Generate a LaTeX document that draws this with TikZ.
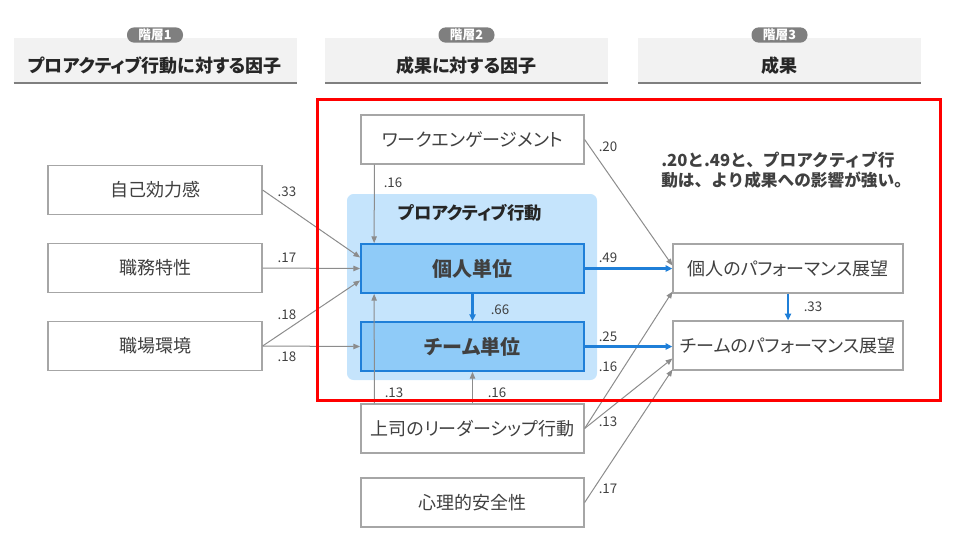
\documentclass[tikz,border=0pt]{standalone}
\usepackage{fontspec}
\setmainfont{Noto Sans CJK JP}[RawFeature=+palt]
\newfontfamily\notefont{Noto Sans CJK JP}
\usepackage{tikz}
\usetikzlibrary{arrows.meta,calc}
\definecolor{boxgray}{HTML}{A6A6A6}
\definecolor{txtgray}{HTML}{404040}
\definecolor{arrgray}{HTML}{8C8C8C}
\definecolor{hdrfill}{HTML}{F2F2F2}
\definecolor{hdrline}{HTML}{7F7F7F}
\definecolor{areablue}{HTML}{C5E4FC}
\definecolor{unitblue}{HTML}{8FCBF8}
\definecolor{lineblue}{HTML}{1F7FD8}
\tikzset{
  facbox/.style={rectangle,draw=boxgray,line width=0.9pt,fill=white,text=txtgray,
    minimum height=36.75pt,inner sep=0pt,font=\fontsize{13.5}{15}\selectfont},
  unitbox/.style={rectangle,draw=lineblue,line width=1.3pt,fill=unitblue,text=txtgray,
    minimum width=167.25pt,minimum height=36.75pt,inner sep=0pt,font=\bfseries\fontsize{15}{17}\selectfont},
  lbl/.style={text=txtgray,inner sep=0pt,font=\fontsize{10}{12}\selectfont},
  hdrtext/.style={text=black!85,inner sep=0pt,font=\bfseries\fontsize{13.5}{15}\selectfont},
  pill/.style={rectangle,rounded corners=5.5pt,fill=hdrline,text=white,minimum width=42pt,
    minimum height=11.5pt,inner sep=0pt,font=\bfseries\fontsize{9.5}{10}\selectfont},
  garrow/.style={draw=arrgray,line width=0.75pt,-{Triangle[length=5pt,width=4pt]}},
  barrow/.style={draw=lineblue,line width=1.6pt,-{Triangle[length=5pt,width=4.5pt]}},
}
\newcommand{\facnode}{\node[facbox,minimum width=160.5pt]}
\newcommand{\midnode}{\node[facbox,minimum width=167.25pt]}
\newcommand{\outnode}{\node[facbox,minimum width=172.5pt]}
\newcommand{\unitnode}{\node[unitbox]}
\newcommand{\lblnode}{\node[lbl]}

\begin{document}
\begin{tikzpicture}[x=0.75pt,y=-0.75pt]
  \useasboundingbox (0,0) rectangle (960,554);
  % headers
  \foreach \cx/\lvl/\ttl [count=\i] in {155/1/プロアクティブ行動に対する因子,466.5/2/成果に対する因子,779.5/3/成果}{
    \fill[hdrfill] (\cx-141.5,38) rectangle (\cx+141.5,83);
    \draw[hdrline,line width=1.5pt] (\cx-141.5,83) -- (\cx+141.5,83);
    \node[hdrtext] (hdr\i) at (\cx,66) {\ttl};
    \node[pill] (pill\i) at (\cx,35) {階層\lvl};
  }
  % proactive area
  \fill[areablue,rounded corners=5pt] (347,194) rectangle (597,380);
  \node[hdrtext,font=\bfseries\fontsize{13}{15}\selectfont] (protitle) at (470,213) {プロアクティブ行動};
  \facnode (self) at (155,190) {自己効力感};
  \facnode (task) at (155,268) {職務特性};
  \facnode (place) at (155,346) {職場環境};
  \midnode (work) at (472.5,139.5) {ワークエンゲージメント};
  \unitnode (indiv) at (472.5,268.5) {個人単位};
  \unitnode (team) at (472.5,346.5) {チーム単位};
  \midnode (boss) at (472.5,428.5) {上司のリーダーシップ行動};
  \midnode (safe) at (472.5,502.5) {心理的安全性};
  \outnode (indperf) at (788,268.5) {個人のパフォーマンス展望};
  \outnode (teamperf) at (788,345.5) {チームのパフォーマンス展望};
  \node[anchor=west,align=left,text=txtgray,inner sep=0pt,font=\notefont\bfseries\fontsize{12.5}{15}\selectfont] (note) at (661,170)
    {.20と.49と、プロアクティブ行\\動は、より成果への影響が強い。};
  % paths
  \draw[garrow] (self.east) -- ($(indiv.west)+(0,-11)$);
  \draw[garrow] (task.east) -- (indiv.west);
  \draw[garrow] (place.east) -- ($(indiv.west)+(0,12)$);
  \draw[garrow] (place.east) -- (team.west);
  \draw[garrow] ($(work.south west)+(14,0)$) -- ($(indiv.north west)+(14,0)$);
  \draw[garrow] (work.east) -- ($(indperf.west)+(0,-3)$);
  \draw[garrow] ($(boss.north west)+(14,0)$) -- ($(indiv.south west)+(14,0)$);
  \draw[garrow] (boss.north) -- (team.south);
  \draw[garrow] (boss.east) -- ($(indperf.south west)+(0,-2)$);
  \draw[garrow] (boss.east) -- ($(teamperf.west)+(0,13)$);
  \draw[garrow] (safe.east) -- ($(teamperf.south west)+(0,-1)$);
  \draw[barrow] (indiv.east) -- (indperf.west);
  \draw[barrow] (team.east) -- (team.east -| teamperf.west);
  \draw[barrow] (indiv.south) -- (team.north);
  \draw[barrow] (indperf.south) -- (teamperf.north);
  % coefficients
  \lblnode (c33) at (287,192) {.33};
  \lblnode (c17) at (287,258) {.17};
  \lblnode (c18a) at (287,315) {.18};
  \lblnode (c18b) at (287,357) {.18};
  \lblnode (c16a) at (393,183) {.16};
  \lblnode (c20) at (608,147) {.20};
  \lblnode (c49) at (608,258) {.49};
  \lblnode (c66) at (500,310) {.66};
  \lblnode (c25) at (608,337) {.25};
  \lblnode (c16b) at (608,367) {.16};
  \lblnode (c13a) at (394,393) {.13};
  \lblnode (c16c) at (497,393) {.16};
  \lblnode (c13b) at (608,422) {.13};
  \lblnode (c17b) at (608,489) {.17};
  \lblnode (c33b) at (813,307) {.33};
  % highlight frame
  \draw[red,line width=2.25pt] (317,99) rectangle (940,400);
\end{tikzpicture}
\end{document}
